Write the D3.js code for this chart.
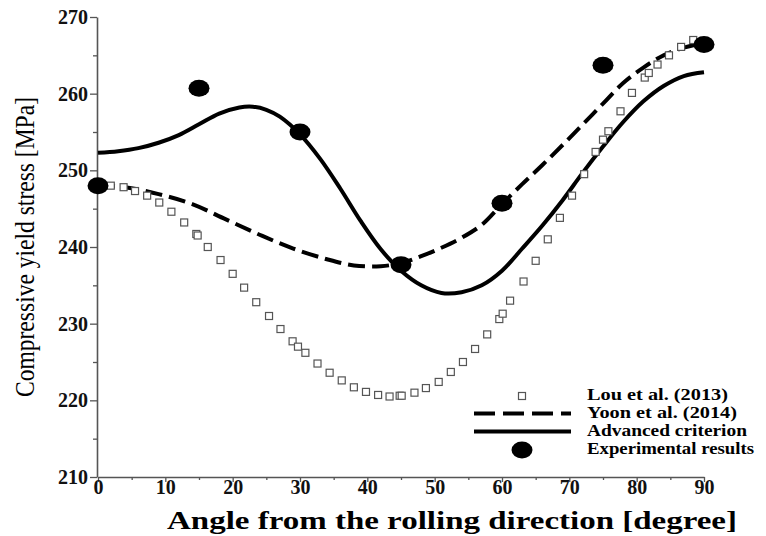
<!DOCTYPE html>
<html>
<head>
<meta charset="utf-8">
<script src="https://cdn.jsdelivr.net/npm/d3@7"></script>
<style>
  body { margin: 0; background: #fff; }
  svg { display: block; }
</style>
</head>
<body>
<div id="viz-container"></div>
<script>
// experimental results
let expAngle = [0, 15, 30, 45, 60, 75, 90];
let expStress = [248.0, 260.7, 255.0, 237.7, 245.7, 263.7, 266.4];

// Lou et al. (2013)
let louAngle = [0, 1.9, 3.8, 5.5, 7.3, 9.1, 10.9, 12.8, 14.6, 14.8, 16.3, 18.2, 20.0, 21.7, 23.5, 25.4, 27.1, 28.9, 29.7, 30.8,
  32.6, 34.4, 36.2, 38.0, 39.8, 41.6, 43.3, 44.8, 45.1, 47.0, 48.7, 50.6, 52.4, 54.2, 56.0, 57.8, 59.6, 60.1, 61.2,
  63.2, 65.0, 66.8, 68.6, 70.4, 72.2, 73.9, 75.0, 75.8, 77.6, 79.3, 81.2, 81.8, 83.1, 84.8, 86.6, 88.4];
let louStress = [248.1, 248.0, 247.8, 247.3, 246.7, 245.8, 244.6, 243.2, 241.7, 241.5, 240.0, 238.3, 236.5, 234.7, 232.8, 231.0, 229.3, 227.7, 227.0, 226.2,
  224.8, 223.6, 222.6, 221.7, 221.1, 220.7, 220.5, 220.6, 220.6, 221.0, 221.6, 222.4, 223.7, 225.0, 226.7, 228.6, 230.6, 231.3, 233.0,
  235.5, 238.2, 241.0, 243.8, 246.7, 249.5, 252.4, 254.0, 255.1, 257.7, 260.1, 262.1, 262.7, 263.8, 265.0, 266.1, 267.0];

// Yoon et al. (2014)
let yoonAngle = [0, 4, 9, 14, 19, 24, 29, 34, 38, 42, 45, 48, 51, 54, 57, 60, 63, 66, 69, 72, 75, 78, 81, 84, 87, 90];
let yoonStress = [248.0, 247.8, 246.9, 245.6, 243.6, 241.6, 239.8, 238.4, 237.6, 237.5, 237.9, 238.8, 239.9, 241.2, 242.9, 245.6,
  248.2, 250.7, 253.3, 256.0, 258.7, 261.4, 263.4, 265.0, 266.0, 266.6];

// Advanced criterion
let advAngle = [0, 3, 6, 9, 12, 15, 18, 21, 23, 25, 27, 30, 33, 36, 39, 42, 45, 48, 51, 54, 57, 60, 63, 66, 69, 72, 75, 78, 81, 84, 87, 90];
let advStress = [252.3, 252.5, 252.9, 253.6, 254.6, 256.0, 257.4, 258.2, 258.3, 257.9, 257.0, 254.7, 251.5, 247.6, 243.4, 239.7, 236.9,
  235.0, 234.0, 234.1, 235.0, 236.9, 239.8, 242.8, 246.1, 249.7, 253.1, 256.3, 259.0, 261.0, 262.3, 262.8];

let xMajor = [0, 10, 20, 30, 40, 50, 60, 70, 80, 90];
let xMinor = [5, 15, 25, 35, 45, 55, 65, 75, 85];
let yMajor = [210, 220, 230, 240, 250, 260, 270];
let yMinor = [215, 225, 235, 245, 255, 265];

let legendLabels = ["Lou et al. (2013)", "Yoon et al. (2014)", "Advanced criterion", "Experimental results"];
let legendWidths = [141, 150, 160, 167];

let serif = "'Liberation Serif', 'Times New Roman', serif";

let viz = d3.select("#viz-container")
  .append("svg")
    .attr("width", 766)
    .attr("height", 536);

let x = d3.scaleLinear().domain([0, 90]).range([98, 704]);
let y = d3.scaleLinear().domain([210, 270]).range([477, 17]);

// axes
viz.append("g")
  .attr("transform", "translate(97,0)")
  .call(d3.axisLeft(y).tickValues(yMajor).tickSize(7).tickPadding(2).tickSizeOuter(0));
viz.append("g")
  .attr("transform", "translate(97,0)")
  .call(d3.axisLeft(y).tickValues(yMinor).tickSize(4).tickFormat("").tickSizeOuter(0))
  .select(".domain").remove();

viz.append("g")
  .attr("transform", "translate(0,477)")
  .call(d3.axisBottom(x).tickValues(xMajor).tickSize(5).tickPadding(-2).tickSizeOuter(0));
viz.append("g")
  .attr("transform", "translate(0,477)")
  .call(d3.axisBottom(x).tickValues(xMinor).tickSize(3).tickFormat("").tickSizeOuter(0))
  .select(".domain").remove();

viz.selectAll(".domain").attr("stroke", "#555").attr("stroke-width", 1.6);
viz.selectAll(".tick line").attr("stroke", "#555").attr("stroke-width", 1.3);
viz.selectAll(".tick text")
  .attr("font-family", serif)
  .attr("font-weight", "bold")
  .attr("font-size", 20)
  .attr("fill", "#111");

// axis titles
viz.append("text")
  .attr("transform", "translate(34,247) rotate(-90)")
  .attr("text-anchor", "middle")
  .attr("font-family", serif)
  .attr("font-size", 28)
  .attr("textLength", 300)
  .attr("lengthAdjust", "spacingAndGlyphs")
  .text("Compressive yield stress [MPa]");

viz.append("text")
  .attr("x", 452)
  .attr("y", 529)
  .attr("text-anchor", "middle")
  .attr("font-family", serif)
  .attr("font-weight", "bold")
  .attr("font-size", 25)
  .attr("textLength", 570)
  .attr("lengthAdjust", "spacingAndGlyphs")
  .text("Angle from the rolling direction [degree]");

// curves
let line = d3.line()
  .x(d => x(d[0]))
  .y(d => y(d[1]))
  .curve(d3.curveCatmullRom);

viz.append("path")
  .datum(yoonAngle.map((a, i) => [a, yoonStress[i]]))
  .attr("d", line)
  .attr("fill", "none")
  .attr("stroke", "#000")
  .attr("stroke-width", 4)
  .attr("stroke-dasharray", "17,7");

viz.append("path")
  .datum(advAngle.map((a, i) => [a, advStress[i]]))
  .attr("d", line)
  .attr("fill", "none")
  .attr("stroke", "#000")
  .attr("stroke-width", 4);

// squares
viz.selectAll(".lou")
  .data(louAngle.map((a, i) => [a, louStress[i]]))
  .enter()
  .append("rect")
    .attr("class", "lou")
    .attr("x", d => x(d[0]) - 3.5)
    .attr("y", d => y(d[1]) - 3.5)
    .attr("width", 7)
    .attr("height", 7)
    .attr("fill", "#fff")
    .attr("stroke", "#555")
    .attr("stroke-width", 1.2);

// experimental points
viz.selectAll(".exp")
  .data(expAngle.map((a, i) => [a, expStress[i]]))
  .enter()
  .append("ellipse")
    .attr("class", "exp")
    .attr("cx", d => x(d[0]))
    .attr("cy", d => y(d[1]))
    .attr("rx", 10.5)
    .attr("ry", 8.5)
    .attr("fill", "#000");

// legend
let legend = viz.append("g");
legend.append("rect")
  .attr("x", 518.5).attr("y", 392.5).attr("width", 7).attr("height", 7)
  .attr("fill", "#fff").attr("stroke", "#555").attr("stroke-width", 1.2);
legend.append("line")
  .attr("x1", 474).attr("x2", 571).attr("y1", 413.5).attr("y2", 413.5)
  .attr("stroke", "#000").attr("stroke-width", 4).attr("stroke-dasharray", "21,8");
legend.append("line")
  .attr("x1", 474).attr("x2", 571).attr("y1", 431.5).attr("y2", 431.5)
  .attr("stroke", "#000").attr("stroke-width", 4);
legend.append("ellipse")
  .attr("cx", 522).attr("cy", 450).attr("rx", 10.5).attr("ry", 8.5).attr("fill", "#000");

legend.selectAll(".legtext")
  .data(legendLabels)
  .enter()
  .append("text")
    .attr("x", 587)
    .attr("y", (d, i) => 400 + i * 18)
    .attr("font-family", serif)
    .attr("font-weight", "bold")
    .attr("font-size", 16)
    .attr("textLength", (d, i) => legendWidths[i])
    .attr("lengthAdjust", "spacingAndGlyphs")
    .text(d => d);
</script>
</body>
</html>
